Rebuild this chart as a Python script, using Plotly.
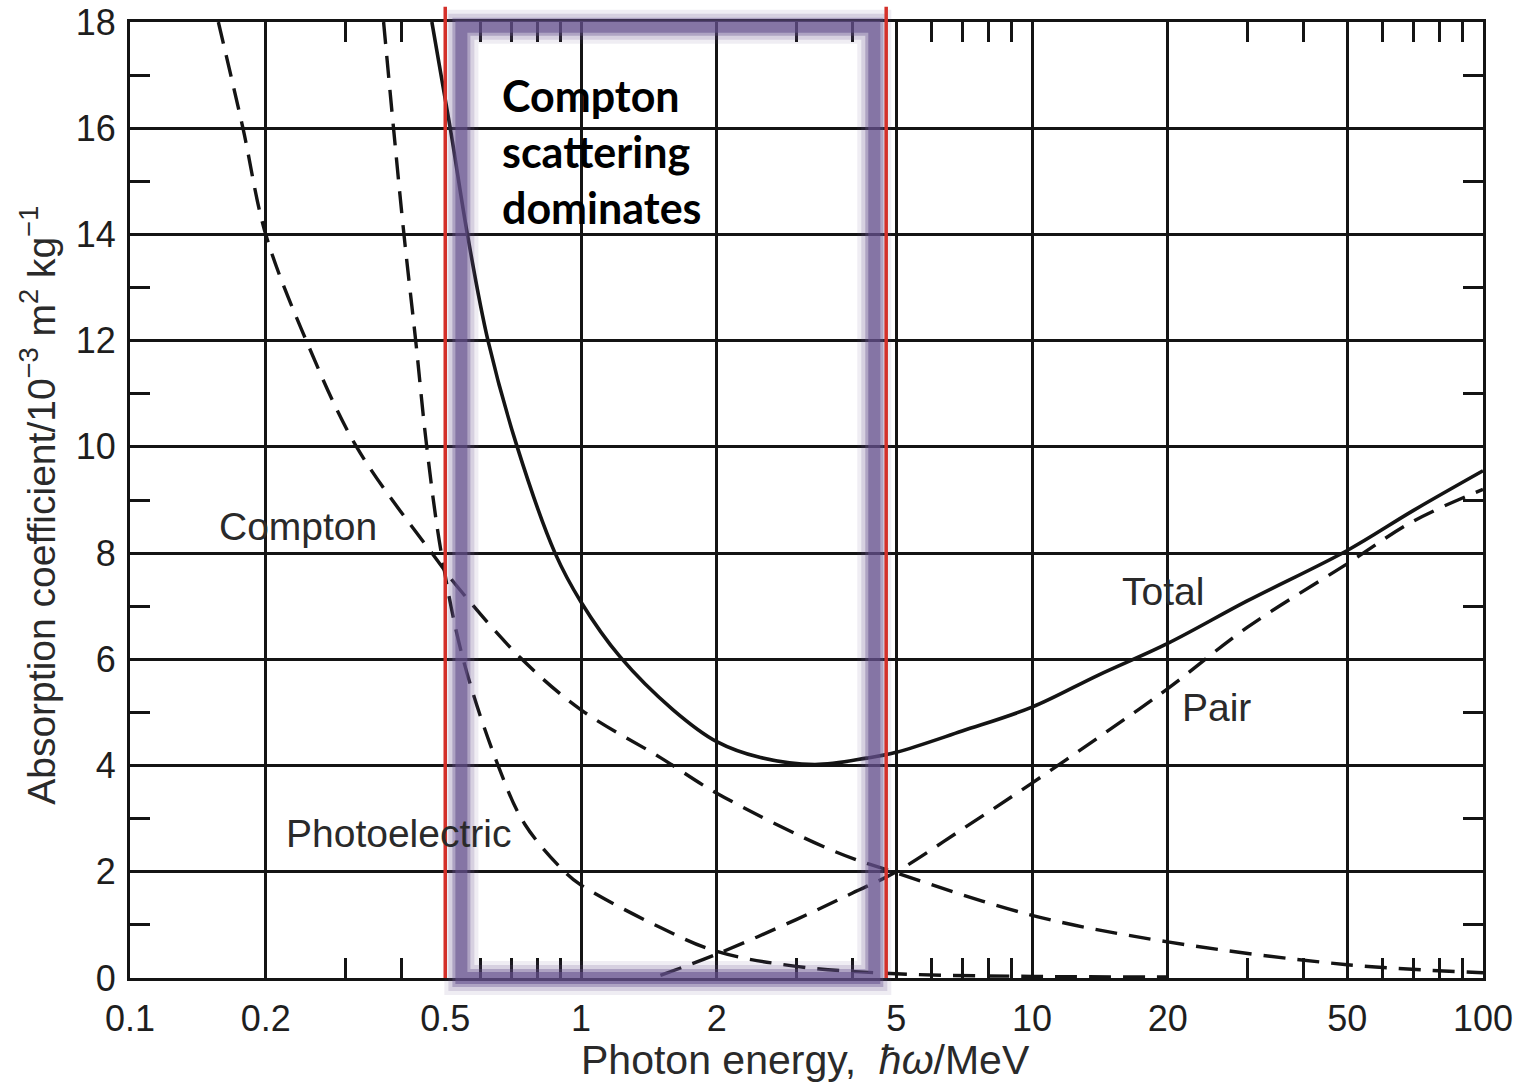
import math
import plotly.graph_objects as go

# ---------------- data ----------------
compton_E = [0.157, 0.178, 0.2, 0.246, 0.318, 0.467, 0.54, 0.74, 1.0, 1.5, 2.0, 3.61, 5.0, 10.0, 20.0, 50.0, 100.0]
compton_mu = [18.0, 16.0, 14.0, 12.0, 10.0, 8.0, 7.3, 6.0, 5.05, 4.15, 3.48, 2.4, 1.98, 1.18, 0.68, 0.25, 0.1]

photo_E = [0.365, 0.384, 0.405, 0.43, 0.455, 0.49, 0.548, 0.655, 0.75, 0.92, 1.0, 1.5, 2.0, 3.0, 5.0, 10.0, 20.0]
photo_mu = [18.0, 16.0, 14.0, 12.0, 10.0, 8.0, 6.0, 4.0, 2.9, 2.0, 1.75, 0.95, 0.5, 0.22, 0.08, 0.03, 0.02]

pair_E = [1.5, 2.0, 3.0, 4.0, 5.0, 7.0, 10.0, 15.0, 20.0, 30.0, 50.0, 70.0, 100.0]
pair_mu = [0.05, 0.45, 1.1, 1.6, 2.0, 2.8, 3.67, 4.7, 5.45, 6.6, 7.8, 8.6, 9.2]

total_E = [0.467, 0.513, 0.56, 0.622, 0.722, 0.876, 1.0, 1.22, 1.6, 2.0, 2.5, 3.3, 4.3, 5.0, 7.0, 10.0, 14.0, 20.0, 30.0, 50.0, 70.0, 100.0]
total_mu = [18.0, 16.0, 14.0, 12.0, 10.0, 8.0, 7.08, 6.05, 5.05, 4.45, 4.15, 4.02, 4.14, 4.25, 4.65, 5.1, 5.7, 6.3, 7.1, 8.05, 8.8, 9.55]

x_major = [0.1, 0.2, 0.5, 1, 2, 5, 10, 20, 50, 100]
x_major_text = ["0.1", "0.2", "0.5", "1", "2", "5", "10", "20", "50", "100"]
x_minor = [0.3, 0.4, 0.6, 0.7, 0.8, 0.9, 3, 4, 6, 7, 8, 9, 30, 40, 60, 70, 80, 90]

# curve labels: (text, energy MeV, coefficient)
curve_labels = [("Compton", 0.2355, 8.5), ("Photoelectric", 0.394, 2.73), ("Total", 19.55, 7.27), ("Pair", 25.7, 5.1)]

region_lo, region_hi = 0.5, 4.75   # "Compton scattering dominates" band (MeV)
frame_lo, frame_hi = 0.543, 4.47   # purple highlight frame centre-lines (MeV)
note_E, note_mu = 0.662, 15.56     # position of the highlighted note

INK = "#141414"
dash = "22px,12px"
FONT = "Liberation Sans, Arial, sans-serif"

fig = go.Figure()
fig.add_trace(go.Scatter(x=compton_E, y=compton_mu, mode="lines", line=dict(color=INK, width=3.4, dash=dash, shape="spline", smoothing=1)))
fig.add_trace(go.Scatter(x=photo_E, y=photo_mu, mode="lines", line=dict(color=INK, width=3.4, dash=dash, shape="spline", smoothing=1)))
fig.add_trace(go.Scatter(x=pair_E, y=pair_mu, mode="lines", line=dict(color=INK, width=3.4, dash=dash, shape="spline", smoothing=1)))
fig.add_trace(go.Scatter(x=total_E, y=total_mu, mode="lines", line=dict(color=INK, width=3.6, shape="spline", smoothing=1)))

tickfont = dict(family=FONT, size=36, color="#1e1e1e")
labfont = dict(family=FONT, size=39, color="#2a2a2a")

fig.update_xaxes(
    type="log", range=[-1, 2], tickvals=x_major, ticktext=x_major_text, automargin=False,
    showgrid=True, gridcolor=INK, gridwidth=2.5, zeroline=False,
    showline=True, linecolor=INK, linewidth=3, mirror="allticks",
    ticks="", tickfont=tickfont, ticklabelstandoff=7,
    minor=dict(tickvals=x_minor, ticks="inside", ticklen=20, tickwidth=2.5, tickcolor=INK, showgrid=False),
)
fig.update_yaxes(
    range=[0, 18], tick0=0, dtick=2, automargin=False,
    showgrid=True, gridcolor=INK, gridwidth=2.5, zeroline=False,
    showline=True, linecolor=INK, linewidth=3, mirror="allticks",
    ticks="", tickfont=tickfont, ticklabelstandoff=4,
    minor=dict(dtick=1, ticks="inside", ticklen=20, tickwidth=2.5, tickcolor=INK, showgrid=False),
)

for txt, ex, ey in curve_labels:
    fig.add_annotation(x=math.log10(ex), y=ey, xref="x", yref="y", text=txt, showarrow=False, font=labfont,
                       xanchor="center", yanchor="middle")

# axis titles
fig.add_annotation(xref="paper", yref="paper", x=-0.068, y=0.495, textangle=-90, showarrow=False,
                   text="Absorption coefficient/10<sup>−3</sup> m<sup>2</sup> kg<sup>−1</sup>",
                   font=dict(family=FONT, size=39, color="#2a2a2a"),
                   xanchor="center", yanchor="middle")
fig.add_annotation(xref="paper", yref="paper", x=0.499, y=-0.086, showarrow=False,
                   text="Photon energy,  <i>ħω</i>/MeV",
                   font=dict(family=FONT, size=41, color="#2a2a2a"),
                   xanchor="center", yanchor="middle")

# purple highlight frame (soft edges) and red boundary lines
for w, a in [(34, 0.10), (26, 0.18), (18, 0.35), (12, 0.55)]:
    fig.add_shape(type="rect", xref="x", yref="paper", x0=frame_lo, x1=frame_hi, y0=0.0, y1=0.995,
                  line=dict(color=f"rgba(100,80,140,{a})", width=w), fillcolor="rgba(0,0,0,0)", layer="above")
for xv in [region_lo, region_hi]:
    fig.add_shape(type="line", xref="x", yref="paper", x0=xv, x1=xv, y0=0.0, y1=1.016,
                  line=dict(color="#d4302a", width=3.5), layer="above")

fig.add_annotation(xref="x", yref="y", x=math.log10(note_E), y=note_mu, showarrow=False, align="left",
                   text="<b>Compton<br>scattering<br>dominates</b>",
                   font=dict(family="Lato, Carlito, sans-serif", size=43, color="#000"),
                   xanchor="left", yanchor="middle")

fig.update_layout(
    width=1520, height=1085, autosize=False,
    margin=dict(l=130, r=37, t=22, b=107),
    paper_bgcolor="white", plot_bgcolor="white", showlegend=False,
)

fig.write_html("out.html")
